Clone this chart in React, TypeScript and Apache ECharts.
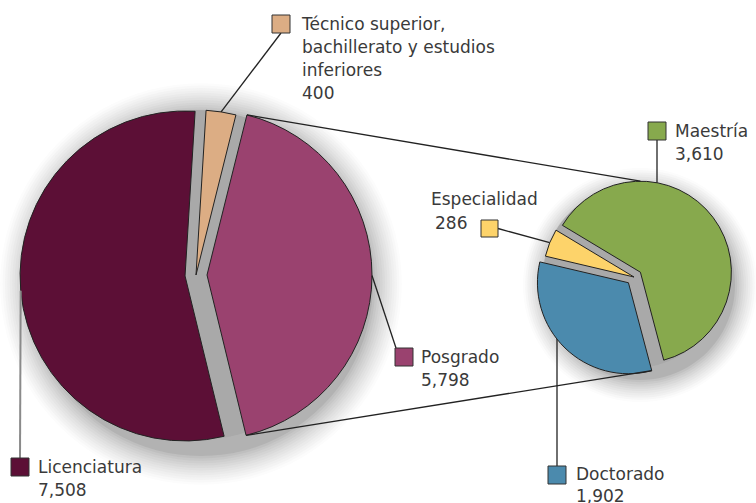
import React, { useEffect, useRef } from "react";
import * as echarts from "echarts";

// ---- Data ----
const mainCategories = ["Técnico superior, bachillerato y estudios inferiores", "Posgrado", "Licenciatura"];
const mainLabelLines = [["Técnico superior,", "bachillerato y estudios", "inferiores"], ["Posgrado"], ["Licenciatura"]];
const mainValues = [400, 5798, 7508];
const mainColors = ["#dcad84", "#9a426f", "#5c0f36"];
const mainSelected = [false, true, true];

const subCategories = ["Maestría", "Doctorado", "Especialidad"];
const subValues = [3610, 1902, 286];
const subColors = ["#87a94d", "#4b8aad", "#fdd36a"];
const subSelected = [true, true, false];

// ---- Layout ----
const W = 756;
const H = 503;
const MAIN = { cx: 196, cy: 275, r: 165, off: 11, start: 86.5 };
const SUB = { cx: 634, cy: 277, r: 91, off: 8, start: 149 };
const FONT = '17px "DejaVu Sans", sans-serif';
const TEXT_COLOR = "#3a3a3a";
const LINE_H = 23;
const SQ = 18;

type Geo = typeof MAIN;
type Sl = { s: number; e: number; m: number };

const rad = (d: number) => (d * Math.PI) / 180;
const fmt = (v: number) => v.toLocaleString("en-US");

function slices(values: number[], start: number): Sl[] {
  const total = values.reduce((a, b) => a + b, 0);
  let a = start;
  return values.map((v) => {
    const span = (v / total) * 360;
    const s = a;
    a -= span;
    return { s, e: a, m: s - span / 2 };
  });
}

function center(geo: Geo, sl: Sl, sel: boolean): [number, number] {
  if (!sel) return [geo.cx, geo.cy];
  return [geo.cx + geo.off * Math.cos(rad(sl.m)), geo.cy - geo.off * Math.sin(rad(sl.m))];
}

function arcPt(geo: Geo, sl: Sl, sel: boolean, deg: number): [number, number] {
  const [x, y] = center(geo, sl, sel);
  return [x + geo.r * Math.cos(rad(deg)), y - geo.r * Math.sin(rad(deg))];
}

function arcYAtX(geo: Geo, sl: Sl, sel: boolean, x: number, top: boolean): number {
  const [cx, cy] = center(geo, sl, sel);
  const d = Math.sqrt(Math.max(0, geo.r * geo.r - (x - cx) * (x - cx)));
  return top ? cy - d : cy + d;
}

export default function App() {
  const ref = useRef<HTMLDivElement>(null);

  useEffect(() => {
    if (!ref.current) return;
    const chart = echarts.init(ref.current, undefined, { renderer: "svg" });

    const mSl = slices(mainValues, MAIN.start);
    const sSl = slices(subValues, SUB.start);

    const topStart = arcPt(MAIN, mSl[1], true, mSl[1].s);
    const botStart = arcPt(MAIN, mSl[1], true, mSl[1].e);
    const topEnd = arcPt(SUB, sSl[0], true, 90);
    const botEnd = arcPt(SUB, sSl[1], true, sSl[1].s);

    const graphics: any[] = [];

    const line = (a: number[], b: number[], stroke = "#222", lw = 1.3) =>
      graphics.push({
        type: "line",
        silent: true,
        z: 10,
        shape: { x1: a[0], y1: a[1], x2: b[0], y2: b[1] },
        style: { stroke, lineWidth: lw },
      });
    const square = (x: number, y: number, fill: string, size = SQ) =>
      graphics.push({
        type: "rect",
        silent: true,
        z: 11,
        shape: { x, y, width: size, height: size },
        style: { fill, stroke: "#333", lineWidth: 1 },
      });
    const text = (t: string, x: number, y: number, align = "left") =>
      graphics.push({
        type: "text",
        silent: true,
        z: 11,
        x,
        y,
        style: {
          text: t,
          font: FONT,
          fill: TEXT_COLOR,
          align,
          verticalAlign: "middle",
          textAlign: align,
          textVerticalAlign: "middle",
        },
      });

    line(topStart, topEnd, "#222", 1.3);
    line(botStart, botEnd, "#222", 1.3);

    // Técnico
    {
      const sx = 272, sy = 15, tx = 302, ty = 24;
      const anchor = arcPt(MAIN, mSl[0], mainSelected[0], mSl[0].m);
      line(anchor, [sx + SQ / 2, sy + SQ]);
      square(sx, sy, mainColors[0]);
      mainLabelLines[0].forEach((l, i) => text(l, tx, ty + i * LINE_H));
      text(fmt(mainValues[0]), tx, ty + mainLabelLines[0].length * LINE_H);
    }
    // Posgrado
    {
      const sx = 395, sy = 348, tx = 421, ty = 357;
      const anchor = arcPt(MAIN, mSl[1], mainSelected[1], mSl[1].m);
      line(anchor, [sx + 1, sy]);
      square(sx, sy, mainColors[1]);
      text(mainLabelLines[1][0], tx, ty);
      text(fmt(mainValues[1]), tx, ty + LINE_H);
    }
    // Licenciatura
    {
      const sx = 11, sy = 458, tx = 38, ty = 467;
      const anchor = arcPt(MAIN, mSl[2], mainSelected[2], mSl[2].m);
      line(anchor, [sx + SQ / 2, sy], "#8a8a8a", 2);
      square(sx, sy, mainColors[2]);
      text(mainLabelLines[2][0], tx, ty);
      text(fmt(mainValues[2]), tx, ty + LINE_H);
    }
    // Maestría
    {
      const sx = 648, sy = 122, tx = 675, ty = 131;
      const lx = sx + SQ / 2;
      line([lx, arcYAtX(SUB, sSl[0], subSelected[0], lx, true)], [lx, sy + SQ]);
      square(sx, sy, subColors[0]);
      text(subCategories[0], tx, ty);
      text(fmt(subValues[0]), tx, ty + LINE_H);
    }
    // Doctorado
    {
      const sx = 548, sy = 466, tx = 576, ty = 474;
      const lx = sx + SQ / 2;
      line([lx, arcYAtX(SUB, sSl[1], subSelected[1], lx, false)], [lx, sy]);
      square(sx, sy, subColors[1]);
      text(subCategories[1], tx, ty);
      text(fmt(subValues[1]), tx, ty + LINE_H - 1);
    }
    // Especialidad
    {
      const sx = 481, sy = 220, size = 17;
      const anchor = arcPt(SUB, sSl[2], subSelected[2], sSl[2].m);
      line([sx + size, sy + size / 2], anchor);
      square(sx, sy, subColors[2], size);
      text(subCategories[2], 431, 199);
      text(fmt(subValues[2]), 435, 223);
    }

    // soft drop-shadow rings behind the pies: stacked opaque discs, light outside, darker inside
    const haloSeries: any[] = [];
    const halo = (geo: Geo, steps: number, step: number, dx: number, dy: number) => {
      for (let k = steps; k >= 0; k--) {
        const t = k / steps;
        const g = Math.round(178 + (252 - 178) * Math.pow(t, 0.7));
        haloSeries.push({
          type: "pie",
          silent: true,
          z: 1,
          center: [geo.cx + dx, geo.cy + dy],
          radius: geo.r + geo.off - 4 + k * step,
          label: { show: false },
          labelLine: { show: false },
          emphasis: { disabled: true },
          data: [{ value: 1, name: "halo" }],
          itemStyle: { color: `rgb(${g},${g},${g})` },
        });
      }
    };
    halo(MAIN, 12, 2.4, 5, 9);
    halo(SUB, 10, 2.2, 6, 8);

    const bgPie = (geo: Geo) => ({
      type: "pie",
      silent: true,
      z: 3,
      center: [geo.cx, geo.cy],
      radius: geo.r,
      label: { show: false },
      labelLine: { show: false },
      emphasis: { disabled: true },
      data: [{ value: 1, name: "gap" }],
      itemStyle: { color: "#a9a9a9" },
    });

    const colorPie = (geo: Geo, names: string[], values: number[], colors: string[], sel: boolean[]) => ({
      type: "pie",
      silent: true,
      z: 4,
      center: [geo.cx, geo.cy],
      radius: geo.r,
      startAngle: geo.start,
      clockwise: true,
      selectedMode: "multiple",
      selectedOffset: geo.off,
      avoidLabelOverlap: false,
      label: { show: false },
      labelLine: { show: false },
      emphasis: { disabled: true },
      itemStyle: { borderColor: "#222", borderWidth: 1 },
      data: values.map((v, i) => ({
        value: v,
        name: names[i],
        selected: sel[i],
        itemStyle: { color: colors[i] },
        select: { itemStyle: { color: colors[i], borderColor: "#222", borderWidth: 1 } },
      })),
    });

    chart.setOption({
      animation: false,
      backgroundColor: "#ffffff",
      series: [
        ...haloSeries,
        bgPie(MAIN),
        bgPie(SUB),
        colorPie(MAIN, mainCategories, mainValues, mainColors, mainSelected),
        colorPie(SUB, subCategories, subValues, subColors, subSelected),
      ],
      graphic: graphics,
    });

    return () => chart.dispose();
  }, []);

  return (
    <div
      ref={ref}
      style={{ position: "absolute", left: 0, top: 0, width: W, height: H }}
    />
  );
}
